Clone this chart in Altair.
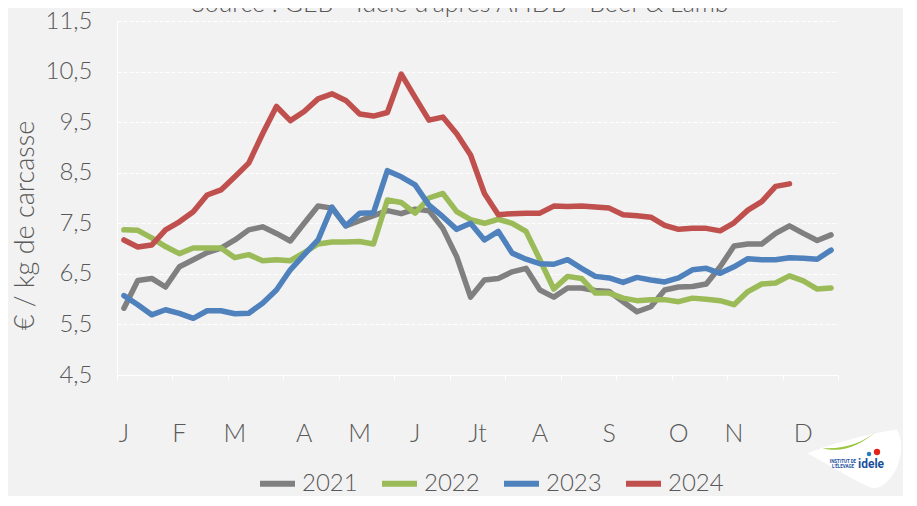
import altair as alt
import pandas as pd

weeks = list(range(1, 53))
s2021 = [5.82, 6.37, 6.41, 6.24, 6.64, 6.78, 6.92, 7.01, 7.17, 7.37,
         7.43, 7.30, 7.15, 7.50, 7.84, 7.80, 7.45, 7.55, 7.65, 7.75,
         7.69, 7.78, 7.75, 7.40, 6.84, 6.04, 6.38, 6.41, 6.54, 6.61,
         6.18, 6.04, 6.22, 6.22, 6.17, 6.15, 5.95, 5.75, 5.85, 6.18,
         6.24, 6.25, 6.30, 6.64, 7.05, 7.09, 7.09, 7.30, 7.45, 7.30,
         7.16, 7.27]
s2022 = [7.37, 7.36, 7.21, 7.04, 6.90, 7.01, 7.01, 7.01, 6.82, 6.88,
         6.76, 6.78, 6.76, 6.92, 7.09, 7.13, 7.13, 7.14, 7.09, 7.96,
         7.91, 7.70, 8.00, 8.09, 7.73, 7.57, 7.50, 7.58, 7.50, 7.34,
         6.78, 6.20, 6.45, 6.41, 6.12, 6.12, 6.02, 5.97, 5.99, 5.99,
         5.95, 6.02, 6.00, 5.97, 5.89, 6.15, 6.30, 6.32, 6.46, 6.36,
         6.20, 6.22]
s2023 = [6.07, 5.89, 5.69, 5.79, 5.72, 5.62, 5.77, 5.77, 5.71, 5.72,
         5.92, 6.18, 6.58, 6.88, 7.17, 7.82, 7.45, 7.70, 7.71, 8.54,
         8.42, 8.26, 7.86, 7.63, 7.38, 7.50, 7.17, 7.34, 6.91, 6.79,
         6.70, 6.69, 6.78, 6.61, 6.45, 6.42, 6.33, 6.43, 6.38, 6.34,
         6.42, 6.58, 6.61, 6.51, 6.64, 6.80, 6.78, 6.78, 6.82, 6.81,
         6.79, 6.97]
s2024 = [7.17, 7.03, 7.07, 7.37, 7.53, 7.73, 8.06, 8.16, 8.42, 8.69,
         9.27, 9.81, 9.53, 9.71, 9.96, 10.06, 9.93, 9.66, 9.62, 9.69,
         10.45, 9.99, 9.54, 9.60, 9.27, 8.85, 8.09, 7.67, 7.69, 7.70,
         7.70, 7.84, 7.83, 7.84, 7.82, 7.80, 7.67, 7.65, 7.62, 7.46,
         7.38, 7.40, 7.40, 7.35, 7.51, 7.76, 7.93, 8.23, 8.28]

years = ["2021", "2022", "2023", "2024"]
colors = ["#808080", "#9BBB59", "#4F81BD", "#C0504D"]
month_labels = ["J", "F", "M", "A", "M", "J", "Jt", "A", "S", "O", "N", "D"]
month_pos = [1, 5, 9, 14, 18, 22, 26.5, 31, 36, 41, 45, 50]
y_ticks = [4.5, 5.5, 6.5, 7.5, 8.5, 9.5, 10.5, 11.5]
title_text = "Source : GEB - Idele d'après AHDB - Beef & Lamb"
y_title = "€ / kg de carcasse"

rows = []
for yr, vals in zip(years, [s2021, s2022, s2023, s2024]):
    for w, v in zip(weeks, vals):
        rows.append({"week": w, "year": yr, "price": v})
df = pd.DataFrame(rows)

bounds = [w - 0.5 for w in weeks] + [52.5]

FONT = "Lato"
TXT = "#595959"
FW = 300
x_scale = alt.Scale(domain=[0.5, 52.5], nice=False, zero=False)

lines = alt.Chart(df).mark_line(strokeWidth=5.5, strokeCap="round", strokeJoin="round").encode(
    x=alt.X("week:Q", scale=x_scale,
            axis=alt.Axis(values=bounds, labels=False, ticks=True, tickColor="white",
                          tickSize=5, tickWidth=1, domainColor="white", domainWidth=1,
                          grid=False, title=None)),
    y=alt.Y("price:Q", scale=alt.Scale(domain=[4.5, 11.5], nice=False, zero=False),
            axis=alt.Axis(values=y_ticks,
                          labelExpr="replace(format(datum.value, '.1f'), '.', ',')",
                          ticks=False, domainColor="white", domainWidth=1,
                          gridColor="white", gridDash=[4, 2], gridWidth=1,
                          labelFont=FONT, labelFontSize=24, labelColor=TXT,
                          labelFontWeight=FW,
                          labelPadding=25, title=y_title, titleX=-92, titleY=204,
                          titleAngle=270, titleAlign="center", titleBaseline="middle",
                          titleFont=FONT, titleFontSize=27, titleColor=TXT,
                          titleFontWeight=FW)),
    color=alt.Color("year:N", scale=alt.Scale(domain=years, range=colors),
                    legend=alt.Legend(orient="none", legendX=140, legendY=442,
                                      direction="horizontal", title=None,
                                      symbolType="stroke", symbolSize=1225,
                                      symbolStrokeWidth=6, labelFont=FONT,
                                      labelFontSize=24, labelColor=TXT,
                                      labelFontWeight=FW,
                                      labelOffset=4, columnPadding=12)),
)

months = alt.Chart(pd.DataFrame({"pos": month_pos, "lab": month_labels})).mark_text(
    font=FONT, fontSize=25, color=TXT, fontWeight=FW, align="center", baseline="middle"
).encode(x=alt.X("pos:Q", scale=x_scale), y=alt.value(413), text="lab:N")

title = alt.Chart(pd.DataFrame({"t": [title_text]})).mark_text(
    font=FONT, fontSize=25, color=TXT, fontWeight=FW, align="center", baseline="alphabetic"
).encode(text="t:N", x=alt.value(343), y=alt.value(-9.5))

blob_path = ("M -0.98 -0.12 C -0.4 -0.35 0.4 -0.55 0.9 -0.62 C 1.05 -0.4 1.02 0.1 0.78 0.38 "
             "C 0.65 0.55 0.5 0.65 0.35 0.6 C 0 0.45 -0.5 0.15 -0.98 -0.12 Z")
swoosh_path = "M -1 0.15 C -0.3 0.35 0.4 0.05 1 -0.5 C 0.5 -0.05 -0.2 0.2 -1 0.15 Z"
one = pd.DataFrame({"k": [0]})
logo_blob = alt.Chart(one).mark_point(shape=blob_path, filled=True, fill="white",
                                      opacity=1, strokeWidth=0, size=9025).encode(
    x=alt.value(737), y=alt.value(438))
logo_sw = alt.Chart(one).mark_point(shape=swoosh_path, filled=True, fill="#9BC53D",
                                    opacity=1, strokeWidth=0, size=3025).encode(
    x=alt.value(733), y=alt.value(423))
logo_red = alt.Chart(one).mark_point(shape="circle", filled=True, fill="#E2231A",
                                     opacity=1, size=40).encode(x=alt.value(760), y=alt.value(431))
logo_blue = alt.Chart(one).mark_point(shape="circle", filled=True, fill="#2A7DC0",
                                      opacity=1, size=20).encode(x=alt.value(752), y=alt.value(433))
logo_txt = alt.Chart(one).mark_text(font="Roboto", fontSize=12, fontWeight="bold",
                                    color="#1B4F9C", align="center", baseline="middle").encode(
    text=alt.value("idele"), x=alt.value(754), y=alt.value(443))
logo_small1 = alt.Chart(one).mark_text(font="Roboto", fontSize=4.5, fontWeight="bold",
                                       color="#1B4F9C", align="center").encode(
    text=alt.value("INSTITUT DE"), x=alt.value(726), y=alt.value(441))
logo_small2 = alt.Chart(one).mark_text(font="Roboto", fontSize=4.5, fontWeight="bold",
                                       color="#1B4F9C", align="center").encode(
    text=alt.value("L'ÉLEVAGE"), x=alt.value(726), y=alt.value(446))

chart = alt.layer(
    lines, months, title, logo_blob, logo_sw, logo_red, logo_blue, logo_txt, logo_small1, logo_small2
).properties(
    width=721, height=354,
    padding={"left": 109, "top": 13, "right": 65, "bottom": 121},
    autosize=alt.AutoSizeParams(type="none"),
    background="#F2F2F2",
).configure_view(stroke=None)

chart.save("out.html", embed_options={"renderer": "svg", "actions": False})
